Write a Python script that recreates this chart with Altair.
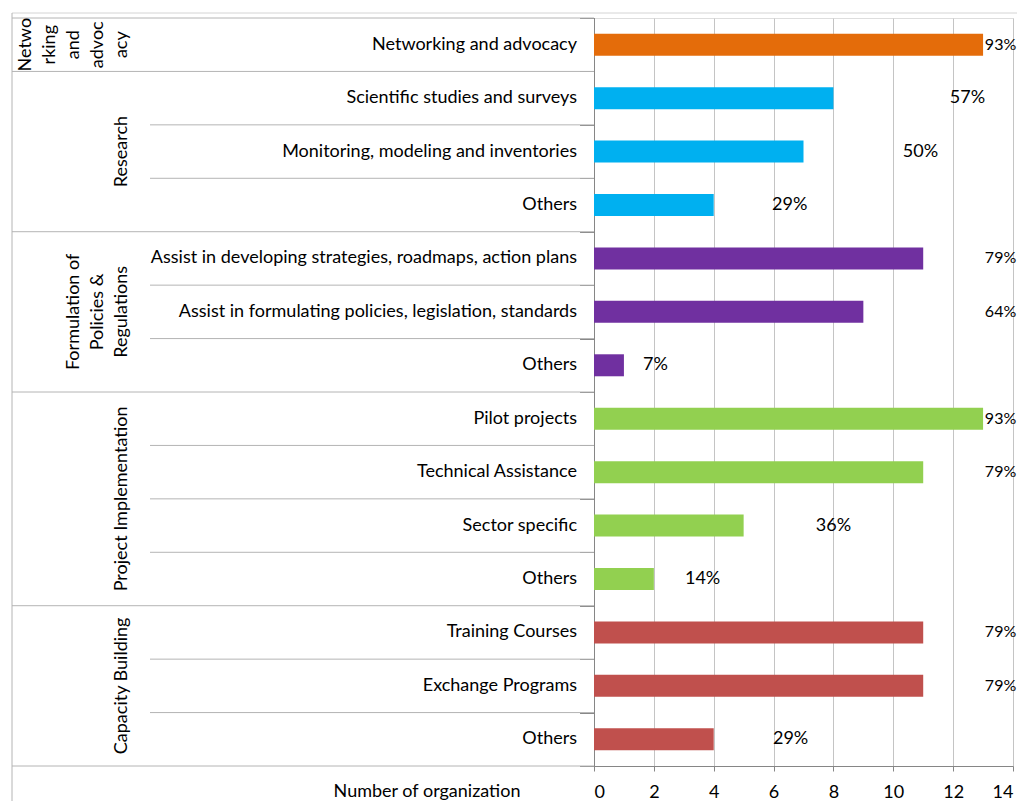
import altair as alt
import pandas as pd

# ---- data -------------------------------------------------------------
group_names = ["Networking and advocacy", "Research", "Formulation of Policies & Regulations",
               "Project Implementation", "Capacity Building"]
group_labels = ["Netwo\nrking\nand\nadvoc\nacy", "Research", "Formulation of\nPolicies  &\nRegulations",
                "Project Implementation", "Capacity Building"]
group_sizes = [1, 3, 3, 4, 3]
group_colors = ["#E46C0A", "#00B0F0", "#7030A0", "#92D050", "#C0504D"]

activities = [
    "Networking  and advocacy",
    "Scientific studies and surveys",
    "Monitoring, modeling and inventories",
    "Others",
    "Assist in developing strategies, roadmaps, action plans",
    "Assist in formulating policies, legislation, standards",
    "Others",
    "Pilot projects",
    "Technical Assistance",
    "Sector specific",
    "Others",
    "Training Courses",
    "Exchange Programs",
    "Others",
]
counts = [13, 8, 7, 4, 11, 9, 1, 13, 11, 5, 2, 11, 11, 4]
pct_labels = ["93%", "57%", "50%", "29%", "79%", "64%", "7%", "93%", "79%", "36%", "14%", "79%", "79%", "29%"]
# where each percentage label starts, read in x-axis units
pct_label_at = [13.33, 11.89, 10.32, 5.95, 13.33, 13.16, 1.64, 13.33, 13.33, 7.41, 3.04, 13.33, 13.33, 5.98]
x_ticks = [0, 2, 4, 6, 8, 10, 12, 14]
x_title = "Number of organization"

# ---- tables built from the lists -------------------------------------
row_group = []
for g, n in zip(group_names, group_sizes):
    row_group += [g] * n
n_rows = len(activities)
rows = pd.DataFrame({
    "row": list(range(n_rows)),
    "activity": activities,
    "count": counts,
    "pct": pct_labels,
    "at": pct_label_at,
    "group": row_group,
})
# keep the labels near the right edge inside the page
EDGE = 13.06
rows["at_drawn"] = rows["at"].clip(upper=EDGE)
rows["edge"] = rows["at"] > EDGE

starts = [sum(group_sizes[:i]) for i in range(len(group_sizes))]
group_bounds = pd.DataFrame({"b": starts + [n_rows]})
inner_bounds = pd.DataFrame({"b": [r for r in range(n_rows) if r not in starts]})
group_mid = pd.DataFrame({
    "b": [s + n / 2 for s, n in zip(starts, group_sizes)],
    "label": group_labels,
    "nlines": [lab.count("\n") + 1 for lab in group_labels],
})
one = pd.DataFrame({"t": [x_title]})

FONT = "Lato"
FS = 18
LH = 24
LINE = "#b4b4b4"
AXIS = "#868686"

xscale = alt.Scale(domain=[0, 14], nice=False, zero=True)
xaxis = alt.Axis(values=x_ticks, grid=True, gridColor="#c4c4c4", domainColor=AXIS, tickColor=AXIS,
                 tickSize=5, labelFont=FONT, labelFontSize=FS, labelColor="black", labelPadding=12,
                 title=None)
yband = alt.Y("row:O", scale=alt.Scale(domain=list(range(n_rows)), paddingInner=0, paddingOuter=0),
              axis=None, sort=None)
qscale = alt.Scale(domain=[0, n_rows], reverse=True, nice=False, zero=False)
qaxis = alt.Axis(values=list(range(n_rows + 1)), labels=False, grid=False, tickSize=14,
                 tickColor=AXIS, domainColor=AXIS, title=None, orient="left")

bars = alt.Chart(rows).mark_bar(size=22).encode(
    x=alt.X("count:Q", scale=xscale, axis=xaxis),
    y=yband,
    color=alt.Color("group:N", scale=alt.Scale(domain=group_names, range=group_colors), legend=None),
)
pct_in = alt.Chart(rows[~rows["edge"]]).mark_text(
    align="left", baseline="middle", font=FONT, fontSize=FS, color="black").encode(
    x=alt.X("at_drawn:Q", scale=xscale, axis=xaxis),
    y=yband,
    text="pct:N",
)
pct_edge = alt.Chart(rows[rows["edge"]]).mark_text(
    align="left", baseline="middle", font=FONT, fontSize=16, color="black").encode(
    x=alt.X("at_drawn:Q", scale=xscale, axis=xaxis),
    y=yband,
    text="pct:N",
)
names = alt.Chart(rows).mark_text(align="right", baseline="middle", font=FONT, fontSize=FS, color="black").encode(
    x=alt.value(-17),
    y=yband,
    text="activity:N",
)

outer_rules = alt.Chart(group_bounds).mark_rule(color=LINE, strokeWidth=1).encode(
    y=alt.Y("b:Q", scale=qscale, axis=qaxis),
    x=alt.value(-582), x2=alt.value(0),
)
inner_rules = alt.Chart(inner_bounds).mark_rule(color=LINE, strokeWidth=1).encode(
    y=alt.Y("b:Q", scale=qscale, axis=qaxis),
    x=alt.value(-444), x2=alt.value(0),
)

# rotated group labels: the last line of each label ends at the same x
glayers = []
for k in sorted(group_mid["nlines"].unique()):
    glayers.append(
        alt.Chart(group_mid[group_mid["nlines"] == k]).mark_text(
            angle=270, align="center", baseline="bottom", font=FONT, fontSize=FS,
            lineBreak="\n", lineHeight=LH, color="black",
        ).encode(
            y=alt.Y("b:Q", scale=qscale, axis=qaxis),
            x=alt.value(-463 - (int(k) - 1) * LH),
            text="label:N",
        )
    )

frame_left = alt.Chart(one).mark_rule(color=LINE).encode(x=alt.value(-582), y=alt.value(-5), y2=alt.value(790))
frame_top = alt.Chart(one).mark_rule(color="#d4d4d4").encode(x=alt.value(-582), x2=alt.value(431), y=alt.value(-5))
title_txt = alt.Chart(one).mark_text(align="center", baseline="alphabetic", font=FONT, fontSize=FS, color="black").encode(
    x=alt.value(-167), y=alt.value(779), text="t:N"
)

chart = alt.layer(
    frame_top, frame_left, outer_rules, inner_rules, *glayers,
    bars, pct_in, pct_edge, names, title_txt,
).resolve_scale(y="independent").properties(
    width=419, height=748,
    padding={"left": 586, "top": 10, "right": 4, "bottom": 35},
    autosize=alt.AutoSizeParams(type="none"),
).configure_view(stroke=None).configure(background="white")

chart.save("out.html", embed_options={"renderer": "svg", "actions": False})
